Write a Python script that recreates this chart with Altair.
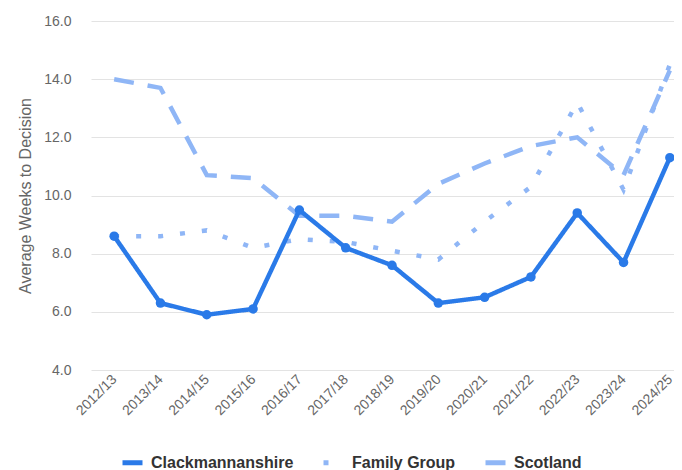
import altair as alt
import pandas as pd

years = ["2012/13", "2013/14", "2014/15", "2015/16", "2016/17", "2017/18", "2018/19",
         "2019/20", "2020/21", "2021/22", "2022/23", "2023/24", "2024/25"]
clack = [8.6, 6.3, 5.9, 6.1, 9.5, 8.2, 7.6, 6.3, 6.5, 7.2, 9.4, 7.7, 11.3]
family = [8.6, 8.6, 8.8, 8.2, 8.5, 8.4, 8.1, 7.8, 9.1, 10.3, 13.2, 10.2, 14.5]
scotland = [14.0, 13.7, 10.7, 10.6, 9.3, 9.3, 9.1, 10.4, 11.1, 11.7, 12.0, 10.7, 14.3]

series_names = ["Clackmannanshire", "Family Group", "Scotland"]
colors = ["#2a7ae8", "#8fb6f6", "#8fb6f6"]
dashes = [[1, 0], [5, 17], [20, 14]]
y_ticks = [4, 6, 8, 10, 12, 14, 16]

rows = []
for name, vals in zip(series_names, [clack, family, scotland]):
    for yr, v in zip(years, vals):
        rows.append({"year": yr, "series": name, "value": v})
df = pd.DataFrame(rows)

FONT = "Liberation Sans"

x = alt.X("year:N", sort=years, scale=alt.Scale(type="point", padding=0.5, range=[0, 602]),
          axis=alt.Axis(title=None, labelAngle=315, labelAlign="right", labelBaseline="middle",
                        labelFontSize=14, labelColor="#666666", labelPadding=7,
                        ticks=False, domain=False, grid=False, labelFont=FONT))
y = alt.Y("value:Q", scale=alt.Scale(domain=[4, 16], nice=False, zero=False),
          axis=alt.Axis(title="Average Weeks to Decision", values=y_ticks, format=".1f",
                        labelFontSize=14, labelColor="#666666", labelPadding=20,
                        titleFontSize=16, titleFontWeight="normal", titleColor="#666666",
                        titlePadding=10, titleFont=FONT, labelFont=FONT,
                        ticks=False, domain=False, grid=True, gridColor="#e3e3e3"))

leg = alt.Legend(orient="none", legendX=29, legendY=429, direction="horizontal", title=None,
                 symbolType="stroke", symbolSize=400, symbolStrokeWidth=5,
                 labelFontSize=16, labelFontWeight="bold", labelColor="#333333", labelFont=FONT,
                 columnPadding=19, labelOffset=6)
color = alt.Color("series:N", scale=alt.Scale(domain=series_names, range=colors), legend=leg)
dash = alt.StrokeDash("series:N", scale=alt.Scale(domain=series_names, range=dashes), legend=leg)

base = alt.Chart(df)
light = base.transform_filter(alt.datum.series != "Clackmannanshire").mark_line(
    strokeWidth=4.5).encode(x=x, y=y, color=color, strokeDash=dash, detail="series:N")
main = base.transform_filter(alt.datum.series == "Clackmannanshire").mark_line(
    strokeWidth=4.5).encode(x=x, y=y, color=color, strokeDash=dash)
pts = base.transform_filter(alt.datum.series == "Clackmannanshire").mark_circle(
    size=90, opacity=1).encode(x=x, y=y, color=alt.value("#2a7ae8"))

chart = alt.layer(light, main, pts).properties(
    width=583, height=349,
    autosize=alt.AutoSizeParams(type="none"),
    padding={"left": 83, "top": 13, "right": 0, "bottom": 100},
).configure(font=FONT, view=alt.ViewConfig(stroke=None))

chart.save("out.html", embed_options={"renderer": "svg", "actions": False})
